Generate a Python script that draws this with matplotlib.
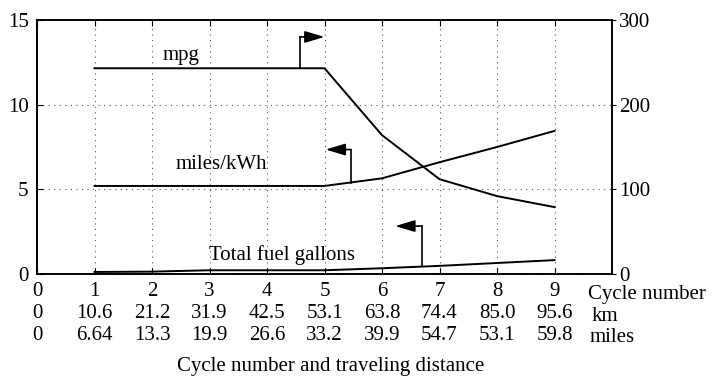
"""Cycle number vs mpg, miles/kWh and total fuel gallons."""

import matplotlib
matplotlib.use("Agg")
import matplotlib.pyplot as plt

plt.rcParams["font.family"] = ["Liberation Serif", "DejaVu Serif"]

# Data
cycles = [1, 2, 3, 4, 5, 6, 7, 8, 9]
mpg = [243, 243, 243, 243, 243, 164, 112, 92, 79]           # right axis
miles_per_kwh = [5.2, 5.2, 5.2, 5.2, 5.2, 5.65, 6.6, 7.5, 8.45]  # left axis
fuel_gallons = [0.12, 0.14, 0.22, 0.22, 0.22, 0.34, 0.48, 0.65, 0.82]  # left axis

cycle_labels = ["0", "1", "2", "3", "4", "5", "6", "7", "8", "9"]
km_labels = ["0", "10.6", "21.2", "31.9", "42.5", "53.1", "63.8", "74.4", "85.0", "95.6"]
mile_labels = ["0", "6.64", "13.3", "19.9", "26.6", "33.2", "39.9", "54.7", "53.1", "59.8"]
row_titles = ["Cycle number", "km", "miles"]

FS = 15
LS = 1.2

fig = plt.figure(figsize=(7.14, 3.76), dpi=100)
ax = fig.add_axes([37 / 714, 102 / 376, 575 / 714, 254 / 376])
ax2 = ax.twinx()

# Left axis lines
ax.plot(cycles, miles_per_kwh, color="black", lw=1.4, zorder=3)
ax.plot(cycles, fuel_gallons, color="black", lw=1.4, zorder=3)
# Right axis line
ax2.plot(cycles, mpg, color="black", lw=1.4, zorder=3)

ax.set_xlim(0, 10)
ax.set_ylim(0, 15)
ax2.set_ylim(0, 300)

ax.set_xticks(range(10))
ax.set_xticklabels([f"{c}\n{k}\n{m}" for c, k, m in zip(cycle_labels, km_labels, mile_labels)],
                   fontsize=FS, linespacing=LS)
ax.set_yticks([0, 5, 10, 15])
ax.set_yticklabels(["0", "5", "10", "15"], fontsize=FS)
ax2.set_yticks([0, 100, 200, 300])
ax2.set_yticklabels(["0", "100", "200", "300"], fontsize=FS)

ax.tick_params(axis="x", direction="in", top=True, length=4, pad=6)
ax.tick_params(axis="y", direction="in", length=4, pad=6)
ax2.tick_params(axis="y", direction="out", length=3, pad=2)

ax.grid(True, linestyle=(0, (1, 4)), color="#555555", lw=0.8)
for a in (ax, ax2):
    for s in a.spines.values():
        s.set_linewidth(1.2)

# Labels inside plot
ax.text(2.5, 12.9, "mpg", fontsize=FS, ha="center", va="center")
ax.text(3.2, 6.45, "miles/kWh", fontsize=FS, ha="center", va="center")
ax.text(4.26, 1.1, "Total fuel gallons", fontsize=FS, ha="center", va="center")


def elbow_arrow(a, x0, y0, y1, x1):
    a.plot([x0, x0], [y0, y1], color="black", lw=1.2, zorder=4)
    a.annotate("", xy=(x1, y1), xytext=(x0, y1),
               arrowprops=dict(arrowstyle="-|>,head_length=1.0,head_width=0.3",
                               mutation_scale=12, color="black", lw=1.2,
                               shrinkA=0, shrinkB=0),
               zorder=4)


elbow_arrow(ax2, 4.57, 243, 280, 5.0)
elbow_arrow(ax, 5.46, 5.35, 7.35, 5.02)
elbow_arrow(ax, 6.7, 0.46, 2.83, 6.23)

# Row titles at the right of the tick labels, one per tick-label row
tr = ax.get_xaxis_transform()
row_step = 15.6  # points between rows
for i, (title, dx) in enumerate(zip(row_titles, [0, 3, 1.5])):
    ax.annotate(title, xy=(9.58, 0), xycoords=tr,
                xytext=(dx, -8 - i * row_step), textcoords="offset points",
                fontsize=FS, ha="left", va="top")

fig.text(331 / 714, 1 - 366 / 376, "Cycle number and traveling distance",
         fontsize=FS, ha="center", va="center")

fig.savefig("out.png", dpi=100, facecolor="white")
